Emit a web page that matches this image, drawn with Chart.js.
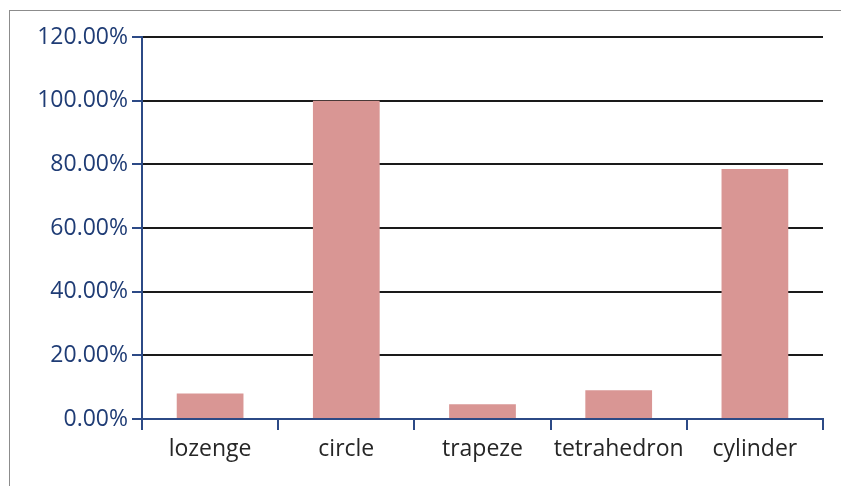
<!DOCTYPE html>
<html>
<head>
<meta charset="utf-8">
<script src="https://cdn.jsdelivr.net/npm/chart.js@4"></script>
<style>
  html, body { margin: 0; padding: 0; background: #fff; }
  #wrap { position: relative; width: 841px; height: 486px; overflow: hidden; }
  #frame { position: absolute; left: 9px; top: 10px; width: 900px; height: 600px;
           border-left: 1px solid #8c8c8c; border-top: 1px solid #8c8c8c; }
  canvas { position: absolute; left: 0; top: 0; }
</style>
</head>
<body>
<div id="wrap">
  <div id="frame"></div>
  <canvas id="chart" width="841" height="486"></canvas>
</div>
<script>
// Shapes and their share (percent)
const categories = ['lozenge', 'circle', 'trapeze', 'tetrahedron', 'cylinder'];
const shares = [8, 100, 4.6, 9, 78.5];
const yMax = 120;
const yStep = 20;

const navy = '#2c4a86';

let chart = new Chart(document.getElementById('chart').getContext('2d'), {
  type: 'bar',
  data: {
    labels: categories,
    datasets: [{
      data: shares,
      backgroundColor: '#d99694',
      borderWidth: 0,
      categoryPercentage: 1,
      barPercentage: 0.49
    }]
  },
  options: {
    responsive: false,
    animation: false,
    layout: { padding: { left: 0, right: 18, top: 37, bottom: 0 } },
    plugins: { legend: { display: false }, tooltip: { enabled: false } },
    scales: {
      x: {
        grid: { drawOnChartArea: false, drawTicks: true, tickLength: 11, color: navy, lineWidth: 2, offset: true },
        border: { color: navy, width: 2 },
        ticks: { color: '#262626', font: { family: 'Open Sans', size: 23 }, padding: 6 },
        afterFit: function(scale) { scale.height = 67; }
      },
      y: {
        min: 0,
        max: yMax,
        ticks: {
          stepSize: yStep,
          color: '#1f3c75',
          font: { family: 'Open Sans', size: 23 },
          padding: 4,
          callback: v => v.toFixed(2) + '%'
        },
        grid: { color: '#1a1a1a', lineWidth: 2, tickColor: navy, tickLength: 10 },
        border: { color: navy, width: 2 },
        afterFit: function(scale) { scale.width = 142; }
      }
    }
  }
});
</script>
</body>
</html>
